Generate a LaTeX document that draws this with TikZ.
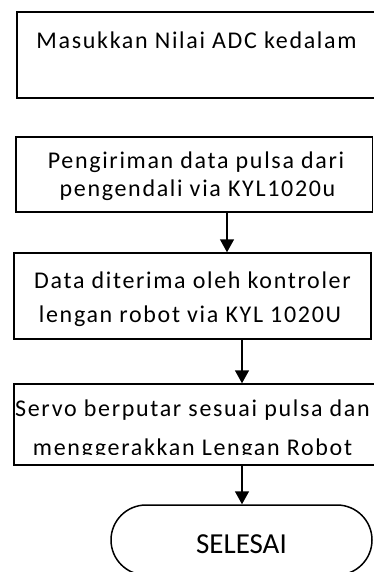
\documentclass[tikz,border=0pt]{standalone}
\usepackage{fontspec}
\setmainfont{Carlito}[LetterSpace=7]
\usetikzlibrary{arrows.meta}
\tikzset{
  box/.style={draw, line width=1.5pt, rectangle, inner sep=0pt},
  txt/.style={anchor=base, inner sep=0pt, font=\fontsize{24}{28}\selectfont},
  arr/.style={line width=1.5pt, -{Triangle[length=13pt,width=14pt]}},
}
\begin{document}
\begin{tikzpicture}[x=1pt,y=-1pt]
\useasboundingbox (0,0) rectangle (374,572);
\clip (0,0) rectangle (374,572);
% boxes
\node[box, minimum width=363pt, minimum height=86pt] (b1) at (198.5,55) {};
\node[box, minimum width=356.5pt, minimum height=75pt] (b2) at (194.25,174.5) {};
\node[box, minimum width=357pt, minimum height=86pt] (b3) at (192.5,296) {};
\node[box, minimum width=366pt, minimum height=81pt] (b4) at (197,424.5) {};
\node[box, rounded corners=35pt, minimum width=261pt, minimum height=70pt] (b5) at (241.5,540) {};
% texts
\node[txt] (t1) at (196.5,49) {Masukkan Nilai ADC kedalam};
\node[txt] (t2a) at (196,168) {Pengiriman data pulsa dari};
\node[txt] (t2b) at (197.5,196) {pengendali via KYL1020u};
\node[txt] (t3a) at (192.5,288) {Data diterima oleh kontroler};
\node[txt] (t3b) at (190,322) {lengan robot via KYL 1020U};
\node[txt] (t4a) at (192.5,416) {Servo berputar sesuai pulsa dan};
\begin{scope}
\clip (0,384) rectangle (374,454);
\node[txt] (t4b) at (192.5,455.5) {menggerakkan Lengan Robot};
\end{scope}
\node[txt, font=\fontsize{29}{33}\selectfont] (t5) at (241.5,553.7) {\addfontfeature{LetterSpace=0}SELESAI};
% connectors
\coordinate (c1) at (227,0);
\coordinate (c2) at (242,0);
\draw[arr] (c1 |- b2.south) -- (c1 |- b3.north);
\draw[arr] (c2 |- b3.south) -- (c2 |- b4.north);
\draw[arr] (c2 |- b4.south) -- (c2 |- b5.north);
\end{tikzpicture}
\end{document}
